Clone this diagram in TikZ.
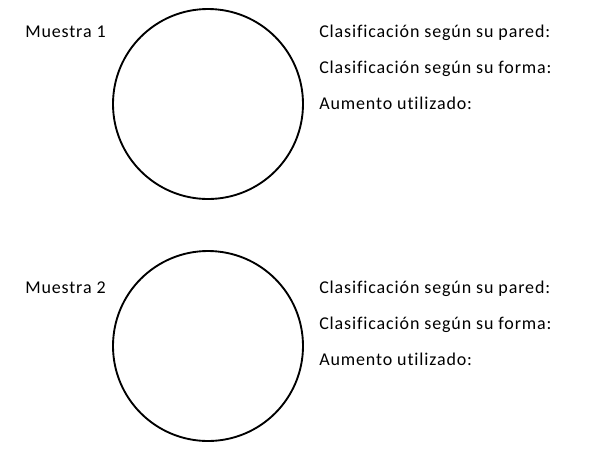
\documentclass[tikz,border=0pt]{standalone}
\usepackage{fontspec}
\setmainfont{Carlito}[LetterSpace=4.8,Ligatures=NoCommon]
\begin{document}
\begin{tikzpicture}[x=0.75pt,y=-0.75pt,
  lbl/.style={anchor=base west,inner sep=0pt,font=\fontsize{13.5}{15}\selectfont},
  sample/.style={draw,circle,line width=1.4pt,minimum size=142.5pt,inner sep=0pt}]
\useasboundingbox (0,0) rectangle (590,455);
\node[sample] (c1) at (208,104) {};
\node[lbl] (m1) at (25,37.5) {Muestra 1};
\node[lbl] (p1) at (319,37.5) {Clasificación según su pared:};
\node[lbl] (f1) at (319,73.5) {Clasificación según su forma:};
\node[lbl] (a1) at (319,109.5) {Aumento utilizado:};
\node[sample] (c2) at (208,346) {};
\node[lbl] (m2) at (25,293) {Muestra 2};
\node[lbl] (p2) at (319,293) {Clasificación según su pared:};
\node[lbl] (f2) at (319,329) {Clasificación según su forma:};
\node[lbl] (a2) at (319,365) {Aumento utilizado:};
\end{tikzpicture}
\end{document}
